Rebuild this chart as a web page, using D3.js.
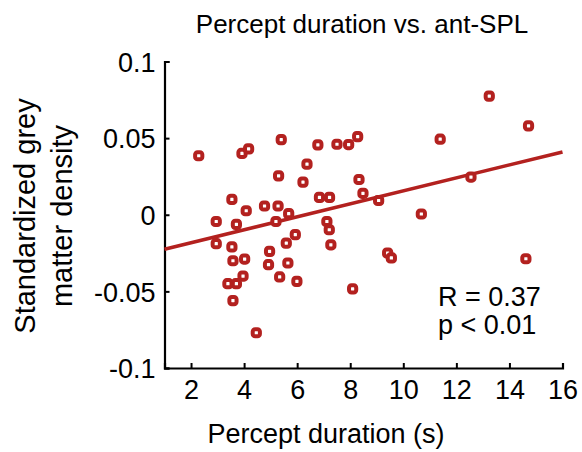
<!DOCTYPE html>
<html>
<head>
<meta charset="utf-8">
<script src="https://cdn.jsdelivr.net/npm/d3@7"></script>
<style>
  html, body { margin: 0; padding: 0; background: #fff; }
  svg { display: block; }
  text { font-family: "Liberation Sans", Arial, Helvetica, sans-serif; fill: #000; }
</style>
</head>
<body>
<script>
// ---- data ----
const durations = [2.29, 3.92, 4.17, 5.40, 6.78, 7.50, 7.94, 8.28, 6.37, 5.30,
  6.22, 8.33, 8.48, 3.54, 6.84, 7.22, 4.08, 4.77, 5.28, 5.68,
  2.95, 3.71, 5.20, 7.12, 7.21, 7.27, 2.95, 3.54, 3.58, 4.02,
  3.96, 3.39, 3.71, 3.58, 4.96, 4.92, 5.59, 5.93, 5.65, 5.34,
  5.99, 4.46, 8.09, 11.39, 13.24, 14.72, 9.07, 12.55, 10.68, 9.41,
  9.55, 14.62];
const densities = [0.0385, 0.040, 0.043, 0.049, 0.0456, 0.046, 0.0458, 0.051, 0.033, 0.0254,
  0.0213, 0.023, 0.014, 0.010, 0.0113, 0.0113, 0.0026, 0.0057, 0.0057, 0.0007,
  -0.0044, -0.0063, -0.0044, -0.0044, -0.0098, -0.0196, -0.0189, -0.021, -0.030, -0.0289,
  -0.040, -0.045, -0.045, -0.056, -0.0239, -0.0326, -0.0185, -0.013, -0.0315, -0.0406,
  -0.0435, -0.077, -0.0484, 0.0493, 0.0774, 0.058, 0.0093, 0.0246, 0.0005, -0.025,
  -0.0282, -0.0287];
const fitX = [1, 16];
const fitY = [-0.0225, 0.041];
const xTicks = [2, 4, 6, 8, 10, 12, 14, 16];
const yTicks = [-0.1, -0.05, 0, 0.05, 0.1];
const yTickLabels = ["-0.1", "-0.05", "0", "0.05", "0.1"];
const titleText = "Percept duration vs. ant-SPL";
const xLabel = "Percept duration (s)";
const yLabelLines = ["Standardized grey", "matter density"];
const statsLines = ["R = 0.37", "p < 0.01"];

// ---- layout ----
const W = 582, H = 452;
const red = "#b3211f";
const fontSize = 27;
const x = d3.scaleLinear().domain([1, 16]).range([164.5, 562.5]);
const y = d3.scaleLinear().domain([-0.1, 0.1]).range([368, 61.5]);

const svg = d3.select("body").append("svg").attr("width", W).attr("height", H);

// title
svg.append("text").attr("x", 362).attr("y", 33).attr("text-anchor", "middle")
  .style("font-size", "26px").text(titleText);

// axes
const xAxis = d3.axisBottom(x).tickValues(xTicks).tickSize(-5).tickPadding(12).tickFormat(d3.format("d"));
const gx = svg.append("g").attr("transform", `translate(0,${y.range()[0]})`).call(xAxis);
const yAxis = d3.axisLeft(y).tickValues(yTicks).tickSize(-5).tickPadding(9)
  .tickFormat((d, i) => yTickLabels[i]);
const gy = svg.append("g").attr("transform", `translate(${x.range()[0]},0)`).call(yAxis);

[gx, gy].forEach(g => {
  g.select(".domain").attr("stroke", "#000").attr("stroke-width", 2.2);
  g.selectAll(".tick line").attr("stroke", "#000").attr("stroke-width", 2);
  g.selectAll(".tick text").style("font-size", fontSize + "px")
    .style("font-family", '"Liberation Sans", Arial, sans-serif').attr("fill", "#000");
});
gx.selectAll(".tick text").attr("dy", "0.71em");
gy.selectAll(".tick text").attr("dy", "0.36em");

// x label
svg.append("text").attr("x", 326).attr("y", 443).attr("text-anchor", "middle")
  .style("font-size", fontSize + "px").text(xLabel);

// y label
const yl = svg.append("text").attr("transform", `translate(35,216) rotate(-90)`)
  .attr("text-anchor", "middle").style("font-size", "29px");
yl.selectAll("tspan").data(yLabelLines).join("tspan")
  .attr("x", 0).attr("dy", (d, i) => i === 0 ? 0 : 37).text(d => d);

// fit line
svg.append("line")
  .attr("x1", x(fitX[0])).attr("y1", y(fitY[0]))
  .attr("x2", x(fitX[1])).attr("y2", y(fitY[1]))
  .attr("stroke", red).attr("stroke-width", 3.6);

// points (rounded-square look of the original markers)
const ms = 7.2;
svg.append("g").selectAll("rect").data(durations).join("rect")
  .attr("x", (d) => x(d) - ms / 2).attr("y", (d, i) => y(densities[i]) - ms / 2)
  .attr("width", ms).attr("height", ms).attr("rx", 2.4).attr("ry", 2.4)
  .attr("fill", "#fff").attr("stroke", red).attr("stroke-width", 4);

// stats
svg.append("g").selectAll("text").data(statsLines).join("text")
  .attr("x", 438).attr("y", (d, i) => 306 + i * 28)
  .style("font-size", fontSize + "px").text(d => d);
</script>
</body>
</html>
